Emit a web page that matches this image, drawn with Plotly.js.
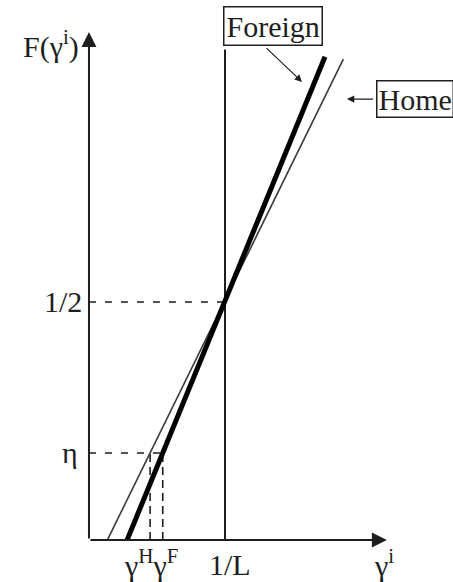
<!DOCTYPE html>
<html>
<head>
<meta charset="utf-8">
<script src="https://cdn.plot.ly/plotly-3.0.1.min.js"></script>
<style>
  html, body { margin: 0; padding: 0; background: #ffffff; }
  #chart { width: 453px; height: 582px; }
</style>
</head>
<body>
<div id="chart"></div>
<script>
// Cumulative distributions F(γ^i) of the two countries (straight-line CDFs)
const homeGamma = [0.135, 1.87];
const homeF = [0, 1.01];
const foreignGamma = [0.28, 1.735];
const foreignF = [0, 1.015];

// Reference levels and axis extents
const oneOverL = 1;
const half = 0.5;
const eta = 0.183;
const gammaMax = 2.19;
const fMax = 1.067;
const lTop = 1.03;

// Tick-style labels
const yLabels = ['1/2', 'η'];
const xLabels = ['γ<sup>H</sup>γ<sup>F</sup>', '1/L', 'γ<sup>i</sup>'];
const yTitle = 'F(γ<sup>i</sup>)';
const seriesNames = ['Foreign', 'Home'];

// γ at which a straight line reaches level f
function gammaAt(gs, fs, f) {
  return gs[0] + (f - fs[0]) * (gs[1] - gs[0]) / (fs[1] - fs[0]);
}
const gammaH = gammaAt(homeGamma, homeF, eta);
const gammaF = gammaAt(foreignGamma, foreignF, eta);

const ink = '#1e1e1e';
const dashStyle = {color: ink, width: 1.6, dash: '7px,9px'};
const font = {family: '"Liberation Serif", "Times New Roman", serif', size: 30, color: ink};

const traces = [
  // 1/L vertical
  {x: [oneOverL, oneOverL], y: [0, lTop], mode: 'lines', line: {color: ink, width: 2}},
  // dashed guides
  {x: [0, oneOverL], y: [half, half], mode: 'lines', line: dashStyle},
  {x: [0, gammaF], y: [eta, eta], mode: 'lines', line: dashStyle},
  {x: [gammaH, gammaH], y: [0, eta], mode: 'lines', line: {color: ink, width: 1.6, dash: '8px,5px'}},
  {x: [gammaF, gammaF], y: [0, eta], mode: 'lines', line: {color: ink, width: 1.6, dash: '8px,5px'}},
  // Home (thin) and Foreign (thick)
  {x: homeGamma, y: homeF, mode: 'lines', name: seriesNames[1], line: {color: '#3a3a3a', width: 1.6}},
  {x: foreignGamma, y: foreignF, mode: 'lines', name: seriesNames[0], line: {color: '#000000', width: 5}}
];

function arrow(x, y, ax, ay, w, size) {
  return {x: x, y: y, ax: ax, ay: ay, xref: 'x', yref: 'y', axref: 'x', ayref: 'y',
          text: '', showarrow: true, arrowhead: 2, arrowsize: size, arrowwidth: w,
          arrowcolor: ink, standoff: 0, startstandoff: 0};
}

const annotations = [
  // axes with arrowheads
  arrow(gammaMax, 0, 0, 0, 2, 1.5),
  arrow(0, fMax, 0, 0, 2, 1.5),
  // label boxes
  {x: 1.353, y: 1.079, xref: 'x', yref: 'y', text: seriesNames[0], showarrow: false,
   xanchor: 'center', yanchor: 'middle', font: font, bordercolor: ink, borderwidth: 1.5, borderpad: 2},
  {x: 2.11, y: 0.926, xref: 'x', yref: 'y', text: seriesNames[1], showarrow: false,
   xanchor: 'left', yanchor: 'middle', font: font, bordercolor: ink, borderwidth: 1.5, borderpad: 1},
  // pointers to the curves
  arrow(1.566, 0.962, 1.294, 1.036, 1.2, 1.2),
  arrow(1.897, 0.926, 2.099, 0.926, 1.2, 1.2),
  // axis labels
  {x: -0.06, y: 1.04, xref: 'x', yref: 'y', text: yTitle, showarrow: false,
   xanchor: 'right', yanchor: 'middle', font: font},
  {x: -0.04, y: half, xref: 'x', yref: 'y', text: yLabels[0], showarrow: false,
   xanchor: 'right', yanchor: 'middle', font: font},
  {x: -0.066, y: eta, xref: 'x', yref: 'y', text: yLabels[1], showarrow: false,
   xanchor: 'right', yanchor: 'middle', font: font},
  {x: 0.24, y: -0.004, xref: 'x', yref: 'y', text: xLabels[0], showarrow: false,
   xanchor: 'left', yanchor: 'top', font: font},
  {x: oneOverL + 0.037, y: -0.012, xref: 'x', yref: 'y', text: xLabels[1], showarrow: false,
   xanchor: 'center', yanchor: 'top', font: font},
  {x: 2.17, y: -0.004, xref: 'x', yref: 'y', text: xLabels[2], showarrow: false,
   xanchor: 'center', yanchor: 'top', font: font}
];

const layout = {
  width: 453, height: 582,
  margin: {l: 0, r: 0, t: 0, b: 0},
  paper_bgcolor: '#ffffff', plot_bgcolor: '#ffffff',
  showlegend: false,
  xaxis: {range: [-0.654, 2.676], visible: false, fixedrange: true},
  yaxis: {range: [-0.088, 1.134], visible: false, fixedrange: true},
  annotations: annotations
};

Plotly.newPlot('chart', traces, layout, {staticPlot: true});
</script>
</body>
</html>
